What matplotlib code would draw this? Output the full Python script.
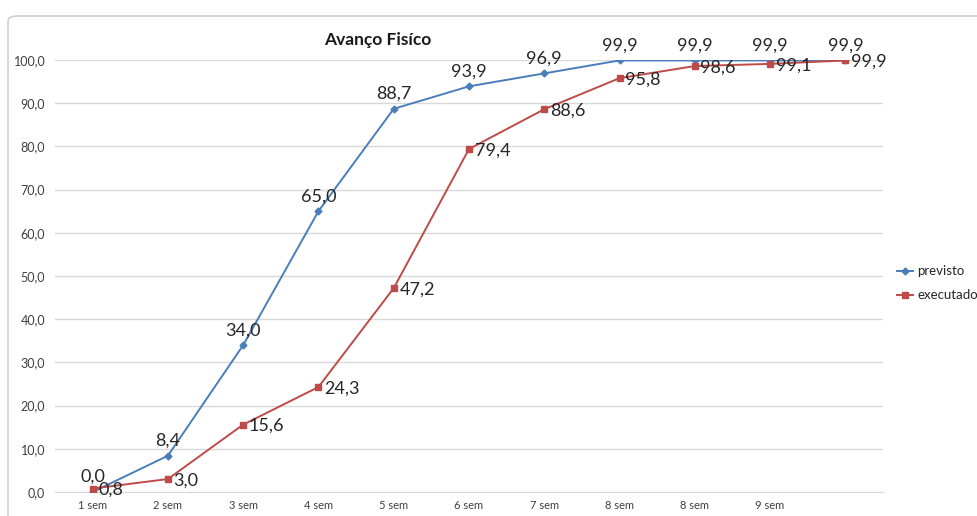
import numpy as np
import matplotlib.pyplot as plt
from matplotlib.patches import FancyBboxPatch

plt.rcParams['font.family'] = ['Lato', 'DejaVu Sans']

# dados do gráfico
semanas = ['1 sem', '2 sem', '3 sem', '4 sem', '5 sem', '6 sem', '7 sem',
           '8 sem', '8 sem', '9 sem', '']
previsto = [0.0, 8.4, 34.0, 65.0, 88.7, 93.9, 96.9, 99.9, 99.9, 99.9, 99.9]
executado = [0.8, 3.0, 15.6, 24.3, 47.2, 79.4, 88.6, 95.8, 98.6, 99.1, 99.9]

cor_prev = '#4a7ebb'
cor_exec = '#be4b48'


def fmt(v):
    return f'{v:.1f}'.replace('.', ',')


fig = plt.figure(figsize=(9.77, 5.16), dpi=100)

# moldura do gráfico (estilo Excel)
moldura = FancyBboxPatch((8 / 977, -0.05), 1.1, 1 - 16 / 516 + 0.05,
                         boxstyle='round,pad=0,rounding_size=0.01',
                         transform=fig.transFigure, fill=False,
                         edgecolor='#d0d0d0', linewidth=1.2)
fig.patches.append(moldura)

ax = fig.add_axes([55 / 977, 1 - 492 / 516, (883 - 55) / 977, (492 - 60) / 516])
x = np.arange(len(semanas))

ax.plot(x, previsto, color=cor_prev, linewidth=1.4, marker='D', markersize=3.5,
        label='previsto', zorder=3)
ax.plot(x, executado, color=cor_exec, linewidth=1.4, marker='s', markersize=5,
        label='executado', zorder=3)

# rótulos de dados
for xi, v in zip(x, previsto):
    ax.annotate(fmt(v), (xi, v), xytext=(0, 5), textcoords='offset points',
                ha='center', va='bottom', fontsize=13, color='#262626')
for xi, v in zip(x, executado):
    ax.annotate(fmt(v), (xi, v), xytext=(4, -1), textcoords='offset points',
                ha='left', va='center', fontsize=13, color='#262626')

ax.set_xlim(-0.5, len(semanas) - 0.5)
ax.set_ylim(0, 100)
ax.set_yticks(np.arange(0, 101, 10))
ax.set_yticklabels([fmt(v) for v in np.arange(0, 101, 10)])
ax.set_xticks(x)
ax.set_xticklabels(semanas)
ax.tick_params(axis='both', length=0, colors='#404040')
ax.tick_params(axis='y', pad=7, labelsize=9)
ax.tick_params(axis='x', pad=6, labelsize=8)

ax.grid(axis='y', color='#d9d9d9', linewidth=1)
ax.set_axisbelow(True)
for s in ['top', 'right', 'left']:
    ax.spines[s].set_visible(False)
ax.spines['bottom'].set_color('#d9d9d9')
ax.patch.set_alpha(0)

fig.text(378 / 977, 1 - 40 / 516, 'Avanço Fisíco', ha='center', va='center',
         fontsize=12.5, fontweight='bold', color='#1a1a1a')

leg = fig.legend(loc='upper left', bbox_to_anchor=(892 / 977, 1 - 260 / 516),
                 frameon=False, fontsize=9.5, handlelength=1.2,
                 handletextpad=0.3, labelspacing=0.9, borderaxespad=0)
for t in leg.get_texts():
    t.set_color('#262626')

fig.savefig('out.png', dpi=100)
